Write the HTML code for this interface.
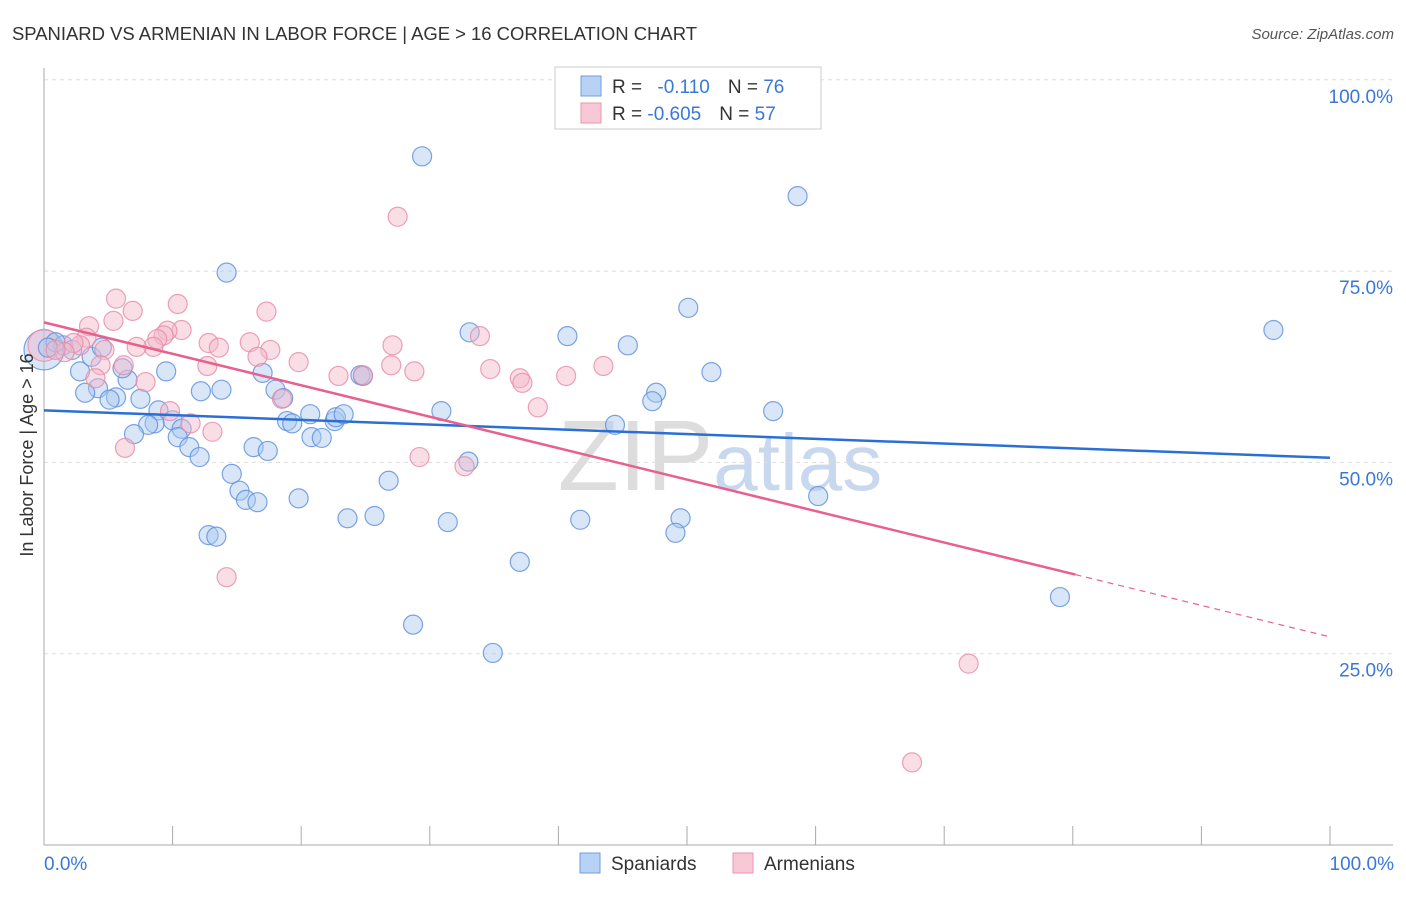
<!DOCTYPE html>
<html><head><meta charset="utf-8"><style>
body{margin:0;background:#fff;font-family:"Liberation Sans",sans-serif}
svg text{font-family:"Liberation Sans",sans-serif}
</style></head><body>
<svg id="chart" width="1406" height="892">
<text x="12" y="40" font-size="18.5" fill="#333" textLength="685">SPANIARD VS ARMENIAN IN LABOR FORCE | AGE &gt; 16 CORRELATION CHART</text>
<text x="1394" y="39" font-size="15" fill="#555" font-style="italic" text-anchor="end">Source: ZipAtlas.com</text>
<text x="720" y="490" font-size="100" fill="#ddd" text-anchor="middle" font-family="Liberation Serif">ZIP<tspan fill="#c8d8ee" font-family="Liberation Sans" font-size="80">atlas</tspan></text>
<g id="grid"></g><g id="axes"></g><g id="pts"></g><g id="lines"></g>
<text transform="translate(33,455) rotate(-90)" font-size="18" fill="#333" text-anchor="middle">In Labor Force | Age &gt; 16</text>
<text x="44" y="870" font-size="19" fill="#3a78d8">0.0%</text>
<text x="1394" y="870" font-size="19" fill="#3a78d8" text-anchor="end">100.0%</text>
<g>
<rect x="555" y="67" width="266" height="62" fill="#fff" stroke="#ccc"/>
<rect x="581" y="76" width="20" height="20" fill="#b8d2f5" stroke="#6f9de0"/>
<rect x="581" y="103" width="20" height="20" fill="#f9c8d7" stroke="#ea94b2"/>
<text x="612" y="93" font-size="19" fill="#333">R = <tspan fill="#3a78d8" dx="10">-0.110</tspan><tspan dx="18" fill="#333">N = </tspan><tspan fill="#3a78d8">76</tspan></text>
<text x="612" y="120" font-size="19" fill="#333">R = <tspan fill="#3a78d8">-0.605</tspan><tspan dx="18" fill="#333">N = </tspan><tspan fill="#3a78d8">57</tspan></text>
</g>
<g>
<rect x="580" y="853" width="20" height="20" fill="#b8d2f5" stroke="#6f9de0"/>
<text x="611" y="870" font-size="19" fill="#333">Spaniards</text>
<rect x="733" y="853" width="20" height="20" fill="#f9c8d7" stroke="#ea94b2"/>
<text x="764" y="870" font-size="19" fill="#333">Armenians</text>
</g>
</svg>
<script>
const yTicks=[25,50,75,100];
const yTickLabels=["25.0%","50.0%","75.0%","100.0%"];
const xTicks=[0,10,20,30,40,50,60,70,80,90,100];
const blueX=[29.4,58.6,14.2,50.1,95.6,33.1,40.7,45.4,51.9,9.5,2.8,3.7,4.5,1.5,0.9,0.3,2.2,6.5,4.2,3.2,5.6,5.1,6.1,7.5,12.2,13.8,17.0,18.0,18.6,24.6,24.8,47.6,47.3,8.9,10.0,8.6,8.1,10.7,10.4,7.0,11.3,12.1,18.9,19.3,20.7,22.6,22.7,23.3,20.8,21.6,30.9,33.0,16.3,17.4,14.6,15.2,15.7,16.6,19.8,26.8,23.6,25.7,31.4,41.7,44.4,56.7,60.2,49.5,49.1,12.8,13.4,28.7,34.9,37.0,79.0];
const blueY=[90.0,84.8,74.8,70.2,67.3,67.0,66.5,65.3,61.8,61.9,61.9,63.8,65.0,65.3,65.7,65.0,64.7,60.8,59.7,59.1,58.5,58.2,62.3,58.3,59.3,59.5,61.7,59.5,58.4,61.4,61.3,59.1,58.0,56.8,55.5,55.1,54.9,54.4,53.3,53.7,52.0,50.7,55.4,55.1,56.3,55.4,55.9,56.3,53.3,53.2,56.7,50.1,52.0,51.5,48.5,46.3,45.1,44.8,45.3,47.6,42.7,43.0,42.2,42.5,54.9,56.7,45.6,42.7,40.8,40.5,40.3,28.8,25.1,37.0,32.4];
const pinkX=[27.5,5.6,10.4,6.9,5.4,3.5,17.3,10.7,9.6,9.3,8.8,8.5,7.2,16.0,17.6,12.8,13.6,27.1,33.9,3.3,2.8,2.3,4.7,1.6,0.9,4.4,4.0,6.2,7.9,12.7,16.6,19.8,27.0,28.8,24.8,22.9,34.7,37.0,37.2,40.6,43.5,38.4,9.8,11.4,13.1,6.3,18.5,29.2,32.7,14.2,71.9,67.5];
const pinkY=[82.1,71.4,70.7,69.8,68.5,67.8,69.7,67.3,67.2,66.6,66.1,65.1,65.1,65.7,64.7,65.6,65.0,65.3,66.5,66.3,65.3,65.6,64.7,64.4,64.7,62.7,61.0,62.7,60.5,62.6,63.8,63.1,62.7,61.9,61.4,61.3,62.2,61.0,60.4,61.3,62.6,57.2,56.7,55.1,54.0,51.9,58.3,50.7,49.5,35.0,23.7,10.8];
const blueTrend=[56.8,50.6];
const pinkTrend=[68.3,27.2];
const pinkSolidEnd=80.2;
const X=v=>44+v*12.86, Y=v=>845-v*7.652;
const NS="http://www.w3.org/2000/svg";
function mk(t,a,p){const e=document.createElementNS(NS,t);for(const k in a)e.setAttribute(k,a[k]);p.appendChild(e);return e;}
const grid=document.getElementById('grid'),axes=document.getElementById('axes'),pts=document.getElementById('pts'),lines=document.getElementById('lines');
yTicks.forEach((t,i)=>{
 const l=mk('line',{x1:44,x2:1393,y1:Y(t),y2:Y(t),stroke:'#ddd','stroke-dasharray':'4,4'},grid);
 
 
 const tx=mk('text',{x:1393,y:Y(t)+23,'font-size':19,fill:'#3a78d8','text-anchor':'end'},grid);
 tx.textContent=yTickLabels[i];
 
 
});
let a=mk('line',{x1:44,x2:44,y1:68,y2:845,stroke:'#aaa'},axes);


a=mk('line',{x1:44,x2:1393,y1:845,y2:845,stroke:'#aaa'},axes);


xTicks.forEach(t=>{
 const l=mk('line',{x1:X(t),x2:X(t),y1:826,y2:845,stroke:'#aaa'},axes);
 
 
});
function dot(x,y,r,fill,stroke,name){
 const c=mk('circle',{cx:X(x),cy:Y(y),r:r,fill:fill,'fill-opacity':0.45,stroke:stroke,'stroke-opacity':0.8,'stroke-width':1.2},pts);
 
 
}
dot(0,64.7,20,'#a8c8f0','#5b8fdc','spaniard-point-large');
dot(0,65.3,16,'#f5b5c8','#e889a8','armenian-point-large');
blueX.forEach((x,i)=>dot(x,blueY[i],9.5,'#a8c8f0','#5b8fdc','spaniard-point'));
pinkX.forEach((x,i)=>dot(x,pinkY[i],9.5,'#f5b5c8','#e889a8','armenian-point'));
let tl=mk('line',{x1:X(0),y1:Y(blueTrend[0]),x2:X(100),y2:Y(blueTrend[1]),stroke:'#2a6fd6','stroke-width':2.5},lines);


const py=x=>pinkTrend[0]+(pinkTrend[1]-pinkTrend[0])*x/100;
tl=mk('line',{x1:X(0),y1:Y(py(0)),x2:X(pinkSolidEnd),y2:Y(py(pinkSolidEnd)),stroke:'#e8608f','stroke-width':2.5},lines);


tl=mk('line',{x1:X(pinkSolidEnd),y1:Y(py(pinkSolidEnd)),x2:X(100),y2:Y(py(100)),stroke:'#e8608f','stroke-width':1.2,'stroke-dasharray':'6,5'},lines);


</script>
</body></html>
